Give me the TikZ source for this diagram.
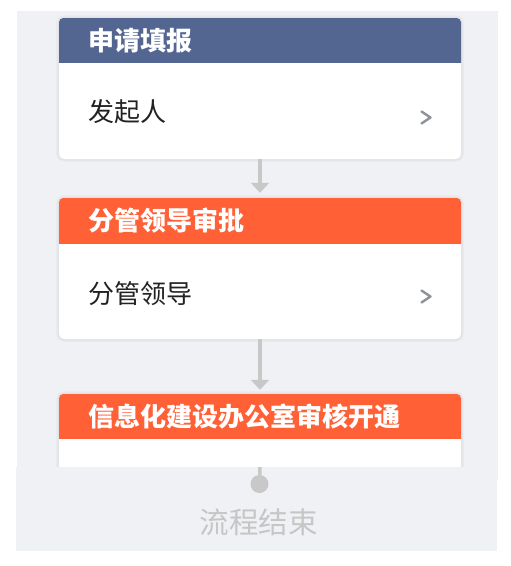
\documentclass[tikz,border=0pt]{standalone}
\usepackage{fontspec}
\setmainfont{Noto Sans CJK SC}
\usetikzlibrary{arrows.meta}
\definecolor{bg}{HTML}{F0F1F5}
\definecolor{hblue}{HTML}{536591}
\definecolor{horange}{HTML}{FF6035}
\definecolor{connc}{HTML}{C8C8C8}
\definecolor{chevc}{HTML}{8E9299}
\definecolor{endtxt}{HTML}{C6C6C6}
\definecolor{bodytxt}{HTML}{222222}
\begin{document}
\begin{tikzpicture}[x=1pt,y=-1pt,
  card/.style={rectangle, rounded corners=5pt, fill=white, draw=none,
    minimum width=402pt, minimum height=141pt, inner sep=0pt,
    preaction={draw=black, draw opacity=0.025, line width=6pt},
    preaction={draw=black, draw opacity=0.035, line width=3pt}},
  htxt/.style={anchor=west, inner sep=0pt, text=white, font=\bfseries\fontsize{26}{31}\selectfont},
  btxt/.style={anchor=west, inner sep=0pt, text=bodytxt, font=\fontsize{26}{31}\selectfont},
  chevs/.style={draw=chevc, line width=2.4pt, line cap=round, line join=round},
  connl/.style={draw=connc, line width=3.5pt},
  connarrow/.style={connl, -{Triangle[width=18pt,length=10pt]}},
  endt/.style={inner sep=0pt, text=endtxt, font=\fontsize{29.5}{34}\selectfont}
]
\useasboundingbox (0,0) rectangle (511,566);
\fill[white] (0,0) rectangle (511,566);
\fill[bg] (17,11) rectangle (498,480);

% card 1
\node[card] (c1) at (260,88.5) {};
\begin{scope}
  \clip (59,18) rectangle (461,62.5);
  \fill[hblue, rounded corners=5pt] (c1.north west) rectangle (c1.east);
\end{scope}
\node[htxt] (t1) at (88.5,41) {申请填报};
\node[btxt] (b1) at (88,112) {发起人};
\coordinate (k1) at (426,117.5);
\draw[chevs] ([shift={(-4.5,-6)}]k1) -- ([shift={(4.5,0)}]k1) -- ([shift={(-4.5,6)}]k1);

% card 2
\node[card] (c2) at (260,268.5) {};
\begin{scope}
  \clip (59,198) rectangle (461,243);
  \fill[horange, rounded corners=5pt] (c2.north west) rectangle (c2.east);
\end{scope}
\node[htxt] (t2) at (88.5,221) {分管领导审批};
\node[btxt] (b2) at (88,293.5) {分管领导};
\coordinate (k2) at (426,296.5);
\draw[chevs] ([shift={(-4.5,-6)}]k2) -- ([shift={(4.5,0)}]k2) -- ([shift={(-4.5,6)}]k2);

% card 3
\node[card] (c3) at (260,464.5) {};
\begin{scope}
  \clip (59,394) rectangle (461,438.5);
  \fill[horange, rounded corners=5pt] (c3.north west) rectangle (c3.east);
\end{scope}
\node[htxt] (t3) at (88.5,417) {信息化建设办公室审核开通};

% connectors
\draw[connarrow, shorten >=5pt] (c1.south) -- (c2.north);
\draw[connarrow, shorten >=4pt] (c2.south) -- (c3.north);

% lower panel
\fill[bg] (16,467) rectangle (497,551);
\coordinate (cut) at (260,467);
\node[circle, fill=connc, minimum size=18pt, inner sep=0pt] (endc) at (259.5,484) {};
\draw[connl] (cut) -- (endc);
\node[endt] (et) at (258.5,522) {流程结束};
\end{tikzpicture}
\end{document}
